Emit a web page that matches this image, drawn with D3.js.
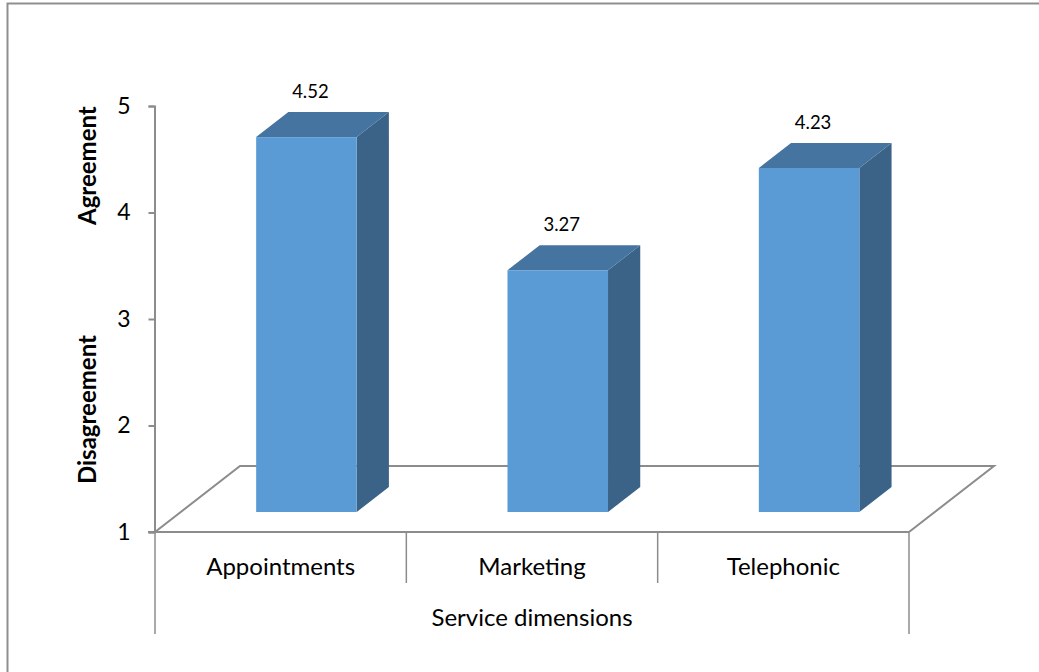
<!DOCTYPE html>
<html>
<head>
<meta charset="utf-8">
<script src="https://cdn.jsdelivr.net/npm/d3@7/dist/d3.min.js"></script>
<style>
  html, body { margin: 0; padding: 0; background: #fff; }
  svg { display: block; }
  text { font-family: Lato, "Open Sans", sans-serif; fill: #000; }
</style>
</head>
<body>
<script>
// Mean scores per service dimension (scale 1–5)
const categories = ["Appointments", "Marketing", "Telephonic"];
const values = [4.52, 3.27, 4.23];
const valueLabels = ["4.52", "3.27", "4.23"];
const yTicks = [1, 2, 3, 4, 5];
const xTitle = "Service dimensions";
const yTitleTop = "Agreement";
const yTitleBottom = "Disagreement";

const W = 1039, H = 672;
const svg = d3.select("body").append("svg").attr("width", W).attr("height", H);

// Outer chart frame
svg.append("rect")
  .attr("x", 7.5).attr("y", 3.5).attr("width", W + 20).attr("height", H + 20)
  .attr("fill", "none").attr("stroke", "#8f8f8f").attr("stroke-width", 2);

// Front plane scales
const y = d3.scaleLinear().domain([1, 5]).range([532, 106]);
const x = d3.scaleBand().domain(categories).range([155, 909]).paddingInner(0).paddingOuter(0);

// Floor depth vector (oblique projection)
const depth = { dx: 85, dy: -66 };
const barDepthStart = 0.303, barDepthEnd = 0.682;
const barFrac = 0.40; // bar width as share of band

const gridColor = "#8c8c8c";

// Floor
const floorPts = [
  [x.range()[0], y(1)],
  [x.range()[0] + depth.dx, y(1) + depth.dy],
  [x.range()[1] + depth.dx, y(1) + depth.dy],
  [x.range()[1], y(1)]
];
svg.append("path")
  .attr("d", d3.line()(floorPts))
  .attr("fill", "none").attr("stroke", gridColor).attr("stroke-width", 2);

// Bars as oblique boxes
const face = "#5b9bd5", topC = "#44749f", sideC = "#3a6387";
const bw = x.bandwidth() * barFrac;
const ox = depth.dx * barDepthStart, oy = depth.dy * barDepthStart;
const ddx = depth.dx * (barDepthEnd - barDepthStart), ddy = depth.dy * (barDepthEnd - barDepthStart);

const bars = svg.append("g").selectAll("g").data(categories).join("g");
bars.each(function(c, i) {
  const g = d3.select(this);
  const x0 = x(c) + (x.bandwidth() - bw) / 2 + ox;
  const x1 = x0 + bw;
  const yb = y(1) + oy;
  const yt = y(values[i]) + oy;
  // side face
  g.append("path").attr("fill", sideC)
    .attr("d", d3.line()([[x1, yb], [x1 + ddx, yb + ddy], [x1 + ddx, yt + ddy], [x1, yt]]) + "Z");
  // top face
  g.append("path").attr("fill", topC)
    .attr("d", d3.line()([[x0, yt], [x0 + ddx, yt + ddy], [x1 + ddx, yt + ddy], [x1, yt]]) + "Z");
  // front face
  g.append("rect").attr("fill", face)
    .attr("x", x0).attr("y", yt).attr("width", bw).attr("height", yb - yt);
  // value label
  g.append("text")
    .attr("x", (x0 + x1) / 2 + 4)
    .attr("y", yt + ddy - 14)
    .attr("text-anchor", "middle")
    .attr("font-size", 18.5)
    .text(valueLabels[i]);
});

// Value axis
const yAxisG = svg.append("g").attr("transform", `translate(${x.range()[0] - 0.5},0)`);
yAxisG.call(d3.axisLeft(y).tickValues(yTicks).tickFormat(d3.format("d")).tickSize(6).tickPadding(18));
yAxisG.select(".domain").attr("stroke", gridColor).attr("stroke-width", 2);
yAxisG.selectAll(".tick line").attr("stroke", gridColor).attr("stroke-width", 2);
yAxisG.selectAll(".tick text")
  .attr("font-family", "Lato, sans-serif").attr("font-size", 23).attr("fill", "#000");

// Category axis table below the floor
svg.append("line")
  .attr("x1", x.range()[0] - 7).attr("x2", x.range()[1])
  .attr("y1", y(1)).attr("y2", y(1))
  .attr("stroke", gridColor).attr("stroke-width", 2);
const edges = [x.range()[0], ...categories.slice(1).map(c => x(c)), x.range()[1]];
svg.append("g").selectAll("line").data(edges).join("line")
  .attr("x1", d => d).attr("x2", d => d)
  .attr("y1", y(1))
  .attr("y2", (d, i) => (i === 0 || i === edges.length - 1) ? 634 : 583)
  .attr("stroke", gridColor).attr("stroke-width", 1.5);

svg.append("g").selectAll("text").data(categories).join("text")
  .attr("x", c => x(c) + x.bandwidth() / 2)
  .attr("y", 575)
  .attr("text-anchor", "middle")
  .attr("font-size", 24)
  .text(c => c);

svg.append("text")
  .attr("x", (x.range()[0] + x.range()[1]) / 2)
  .attr("y", 626)
  .attr("text-anchor", "middle")
  .attr("font-size", 24)
  .text(xTitle);

// Value axis titles
svg.append("text")
  .attr("transform", `translate(96,${y(4.44)}) rotate(-90)`)
  .attr("text-anchor", "middle")
  .attr("font-size", 24).attr("font-weight", "bold")
  .text(yTitleTop);
svg.append("text")
  .attr("transform", `translate(96,${y(2.15)}) rotate(-90)`)
  .attr("text-anchor", "middle")
  .attr("font-size", 24).attr("font-weight", "bold")
  .text(yTitleBottom);
</script>
</body>
</html>
